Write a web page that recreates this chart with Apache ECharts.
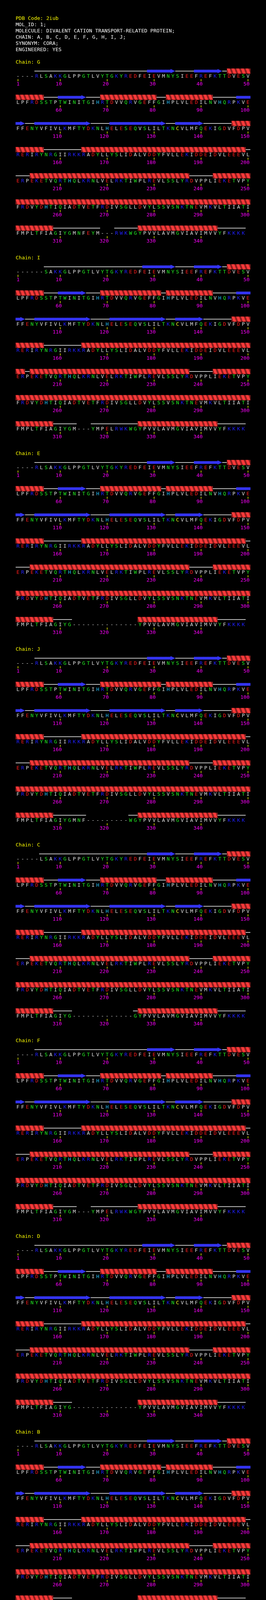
<!DOCTYPE html>
<html lang="en">
<head>
<meta charset="utf-8">
<title>2iub chains</title>
<style>
  html, body { margin: 0; padding: 0; background: #000; }
  #main { width: 680px; height: 5170px; }
</style>
</head>
<body>
<div id="main"></div>
<script src="https://cdn.jsdelivr.net/npm/echarts@6.0.0/dist/echarts.min.js"></script>
<script>
// residues 1-349
var sequence = ('MEEKRLSAKKGLPPGTLVYTGKYREDFEIEVMNYSIEEFREFKTTDVESV' +
  'LPFRDSSTPTWINITGIHRTDVVQRVGEFFGIHPLVLEDILNVHQRPKVE' +
  'FFENYVFIVLKMFTYDKNLHELESEQVSLILTKNCVLMFQEKIGDVFDPV' +
  'RERIRYNRGIIRKKRADYLLYSLIDALVDDYFVLLEKIDDEIDVLEEEVL' +
  'ERPEKETVQRTHQLKRNLVELRKTIWPLREVLSSLYRDVPPLIEKETVPY' +
  'FRDVYDHTIQIADTVETFRDIVSGLLDVYLSSVSNKTNEVMKVLTIIATI' +
  'FMPLTFIAGIYGMNFEYMPELRWKWGYPVVLAVMGVIAVIMVVYFKKKK').split('');

var headerLines = ['PDB Code: 2iub', 'MOL_ID: 1;',
  'MOLECULE: DIVALENT CATION TRANSPORT-RELATED PROTEIN;',
  'CHAIN: A, B, C, D, E, F, G, H, I, J;', 'SYNONYM: CORA;', 'ENGINEERED: YES'];

var chainIds = ['G', 'I', 'E', 'J', 'C', 'F', 'D', 'B', 'H', 'A'];
var firstResidue = [5, 7, 5, 5, 6, 5, 5, 5, 6, 5];
var lastResidue = [349, 349, 349, 349, 349, 349, 349, 349, 349, 349];
var gapStart = [319, 314, 313, 316, 313, 314, 313, 313, 314, 313];
var gapEnd = [321, 316, 326, 324, 325, 316, 326, 326, 319, 326];

// helices (start, end) per chain
var helixG = [[46, 56], [69, 80], [83, 92], [147, 156], [165, 199], [204, 237], [243, 308], [327, 343]];
var helixI = [[46, 56], [69, 81], [83, 92], [147, 156], [165, 202], [204, 237], [243, 308], [327, 343]];
var helixE = [[46, 56], [69, 81], [83, 92], [147, 156], [165, 199], [204, 237], [243, 308], [327, 343]];
var helixJ = [[46, 56], [69, 81], [83, 92], [147, 156], [165, 199], [204, 237], [243, 308], [327, 343]];
var helixC = [[46, 56], [69, 80], [83, 92], [147, 156], [165, 199], [204, 237], [243, 308], [327, 343]];
var helixF = [[46, 56], [69, 81], [83, 92], [147, 156], [165, 199], [204, 237], [243, 308], [327, 343]];
var helixD = [[46, 56], [69, 80], [83, 92], [147, 156], [165, 199], [204, 237], [243, 308], [327, 343]];
var helixB = [[46, 56], [69, 81], [83, 92], [147, 156], [165, 199], [204, 237], [243, 308], [327, 343]];
var helixH = [[46, 56], [69, 80], [83, 92], [147, 156], [165, 199], [204, 237], [243, 308], [327, 343]];
var helixA = [[46, 56], [69, 80], [83, 92], [147, 156], [165, 199], [204, 237], [247, 308], [327, 343]];

// strands (start, end) per chain
var strandG = [[29, 34], [39, 44], [60, 65], [98, 102], [105, 116], [121, 132], [135, 140]];
var strandI = [[28, 34], [39, 44], [60, 65], [98, 102], [105, 116], [121, 132], [135, 140]];
var strandE = [[29, 34], [39, 44], [60, 65], [98, 102], [105, 116], [121, 132], [135, 140]];
var strandJ = [[29, 34], [39, 44], [60, 65], [98, 102], [105, 116], [121, 132], [135, 140]];
var strandC = [[29, 34], [39, 44], [60, 65], [98, 102], [105, 116], [121, 132], [135, 140]];
var strandF = [[29, 34], [39, 44], [60, 65], [98, 102], [105, 116], [121, 132], [135, 140]];
var strandD = [[28, 34], [39, 44], [60, 65], [98, 102], [105, 116], [121, 132], [135, 140]];
var strandB = [[29, 34], [39, 44], [60, 65], [98, 102], [105, 116], [121, 132], [135, 140]];
var strandH = [[28, 34], [39, 44], [60, 65], [98, 102], [105, 116], [121, 132], [135, 140]];
var strandA = [[28, 34], [39, 44], [60, 65], [98, 102], [105, 116], [121, 132], [135, 140]];

var helices = [helixG, helixI, helixE, helixJ, helixC, helixF, helixD, helixB, helixH, helixA];
var strands = [strandG, strandI, strandE, strandJ, strandC, strandF, strandD, strandB, strandH, strandA];

// residue colouring
var basicResidues = ['R', 'K'];
var acidResidues = ['D', 'E'];
var polarResidues = ['S', 'T', 'N', 'Q', 'G', 'Y', 'W'];
var blueOverride = [323];

var perRow = 50;
var rowsPerChain = 7;

function residueColor(aa, num) {
  if (blueOverride.indexOf(num) >= 0) return '#2020ff';
  if (basicResidues.indexOf(aa) >= 0) return '#2020ff';
  if (acidResidues.indexOf(aa) >= 0) return '#ff1c1c';
  if (polarResidues.indexOf(aa) >= 0) return '#22ee22';
  if (aa === 'H') return '#22c0ff';
  if (aa === 'C') return '#ffff22';
  return '#dedede';
}

// per chain lookup: '' missing, C coil, H helix, E strand, A strand end (arrow head)
function buildTable(k) {
  var t = [];
  for (var r = 1; r <= sequence.length; r++) {
    var present = r >= firstResidue[k] && r <= lastResidue[k] && !(r >= gapStart[k] && r <= gapEnd[k]);
    t[r] = present ? 'C' : '';
  }
  helices[k].forEach(function (h) {
    for (var r = h[0]; r <= h[1]; r++) if (t[r]) t[r] = 'H';
  });
  strands[k].forEach(function (s) {
    for (var r = s[0]; r <= s[1]; r++) if (t[r]) t[r] = (r === s[1]) ? 'A' : 'E';
  });
  return t;
}

var residueData = sequence.map(function (aa, i) {
  return [i % perRow, Math.floor(i / perRow), i + 1];
});

function headY(k) { return 160 + 501 * k; }

var FONT = '13px "DejaVu Sans Mono", monospace';

function makeRender(k) {
  var ss = buildTable(k);
  return function (params, api) {
    var res = api.value(2);
    var p = api.coord([api.value(0), api.value(1)]);
    var cw = api.size([1, 0])[0];
    var x = p[0], y = p[1];
    var kids = [];
    var t = ss[res];
    if (t === 'H') {
      kids.push({ type: 'rect', shape: { x: x - 0.3, y: y - 6.5, width: cw + 0.6, height: 13 }, style: { fill: '#8e1f1f' } });
      kids.push({ type: 'polygon', shape: { points: [[x, y - 6.5], [x + 7, y - 6.5], [x + cw, y + 6.5], [x + 5, y + 6.5]] }, style: { fill: '#ff3a3a' } });
    } else if (t === 'E') {
      kids.push({ type: 'rect', shape: { x: x - 0.3, y: y - 3.5, width: cw + 0.6, height: 7 }, style: { fill: '#3434f4' } });
    } else if (t === 'A') {
      kids.push({ type: 'polygon', shape: { points: [[x, y - 5.5], [x + cw, y], [x, y + 5.5]] }, style: { fill: '#3434f4' } });
    } else if (t === 'C') {
      kids.push({ type: 'line', shape: { x1: x, y1: y, x2: x + cw, y2: y }, style: { stroke: '#ffffff', lineWidth: 1.5 } });
    }
    var aa = sequence[res - 1];
    kids.push({
      type: 'text', x: x + cw / 2, y: y + 14,
      style: { text: t ? aa : '-', fill: t ? residueColor(aa, res) : '#dedede', font: FONT, align: 'center', verticalAlign: 'middle' }
    });
    if (res === 1 || res % 10 === 0) {
      kids.push({ type: 'line', shape: { x1: x + cw / 2, y1: y + 20.5, x2: x + cw / 2, y2: y + 26 }, style: { stroke: '#ffff00', lineWidth: 1.4 } });
      kids.push({
        type: 'text', x: x + cw / 2 + 4, y: y + 34,
        style: { text: String(res), fill: '#ff00ff', font: FONT, align: 'right', verticalAlign: 'middle' }
      });
    }
    return { type: 'group', children: kids };
  };
}

var graphics = headerLines.map(function (line, i) {
  return {
    type: 'text', x: 40, y: 48 + 16 * i,
    style: { text: line, fill: i === 0 ? '#ffff00' : '#ffffff', font: FONT, verticalAlign: 'middle' }
  };
});
chainIds.forEach(function (id, k) {
  graphics.push({
    type: 'text', x: 40, y: headY(k),
    style: { text: 'Chain: ' + id, fill: '#ffff00', font: FONT, verticalAlign: 'middle' }
  });
});

var option = {
  backgroundColor: '#000000',
  animation: false,
  graphic: graphics,
  grid: chainIds.map(function (id, k) {
    return { left: 40, width: 600, top: headY(k) + 22, height: 67 * rowsPerChain };
  }),
  xAxis: chainIds.map(function (id, k) {
    return { gridIndex: k, type: 'value', min: 0, max: perRow, show: false };
  }),
  yAxis: chainIds.map(function (id, k) {
    return { gridIndex: k, type: 'value', min: 0, max: rowsPerChain, inverse: true, show: false };
  }),
  series: chainIds.map(function (id, k) {
    return {
      type: 'custom', name: 'Chain ' + id, xAxisIndex: k, yAxisIndex: k,
      data: residueData, renderItem: makeRender(k), clip: false, silent: true
    };
  })
};

var myChart = echarts.init(document.getElementById('main'));
myChart.setOption(option);
</script>
</body>
</html>
